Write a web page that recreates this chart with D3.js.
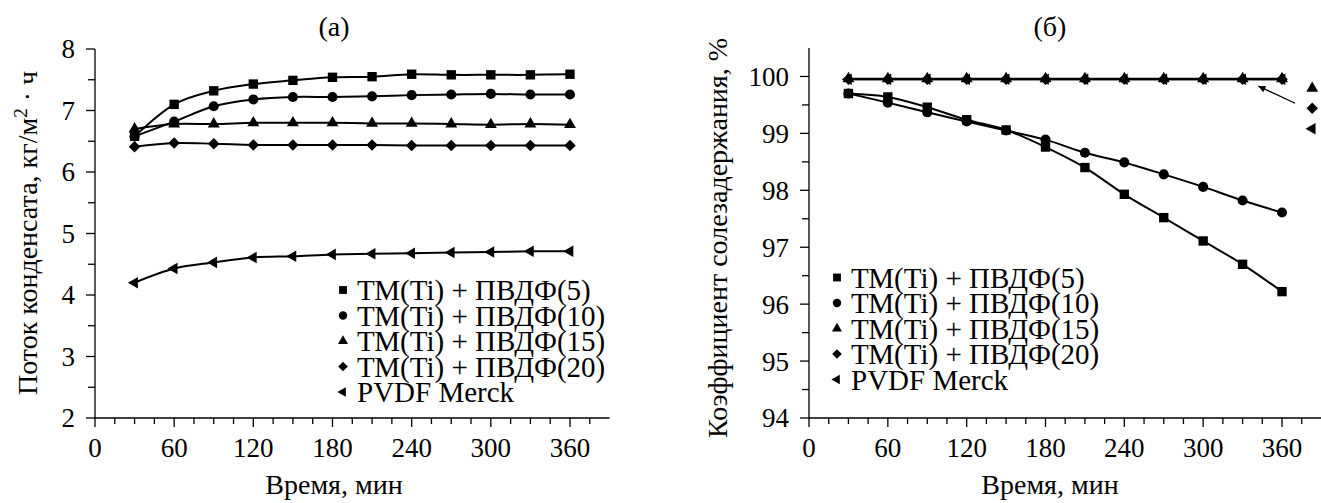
<!DOCTYPE html>
<html>
<head>
<meta charset="utf-8">
<style>
  body { margin: 0; background: #fff; }
  svg text { font-family: "Liberation Serif", "Times New Roman", serif; fill: #000; }
  .axis path, .axis line { stroke: #000; stroke-width: 1.3; fill: none; }
  .series { fill: none; stroke: #000; stroke-width: 2; }
</style>
</head>
<body>
<svg id="chart" width="1321" height="503"></svg>
<script src="https://d3js.org/d3.v7.min.js"></script>
<script>
// time points, min
const times = [30, 60, 90, 120, 150, 180, 210, 240, 270, 300, 330, 360];

// (a) condensate flux, kg/m2 h
const fluxTM5  = [6.58, 7.10, 7.32, 7.43, 7.49, 7.54, 7.55, 7.59, 7.58, 7.58, 7.58, 7.59];
const fluxTM10 = [6.58, 6.82, 7.07, 7.18, 7.22, 7.22, 7.23, 7.25, 7.26, 7.27, 7.26, 7.26];
const fluxTM15 = [6.70, 6.78, 6.78, 6.80, 6.80, 6.80, 6.79, 6.79, 6.78, 6.77, 6.78, 6.77];
const fluxTM20 = [6.41, 6.47, 6.46, 6.44, 6.44, 6.44, 6.44, 6.43, 6.43, 6.43, 6.43, 6.43];
const fluxPVDF = [4.20, 4.43, 4.53, 4.61, 4.63, 4.66, 4.67, 4.68, 4.69, 4.70, 4.71, 4.71];

// (б) salt retention, %
const retTM5  = [99.70, 99.64, 99.46, 99.24, 99.06, 98.76, 98.40, 97.93, 97.52, 97.11, 96.70, 96.22];
const retTM10 = [99.70, 99.54, 99.37, 99.21, 99.05, 98.89, 98.66, 98.49, 98.28, 98.06, 97.82, 97.61];
const retTM15 = [99.96, 99.96, 99.96, 99.96, 99.96, 99.96, 99.96, 99.96, 99.96, 99.96, 99.96, 99.96];
const retTM20 = [99.95, 99.95, 99.95, 99.95, 99.95, 99.95, 99.95, 99.95, 99.95, 99.95, 99.95, 99.95];
const retPVDF = [99.95, 99.95, 99.95, 99.95, 99.95, 99.95, 99.95, 99.95, 99.95, 99.95, 99.95, 99.95];

const seriesNames = ["ТМ(Ti) + ПВДФ(5)", "ТМ(Ti) + ПВДФ(10)", "ТМ(Ti) + ПВДФ(15)", "ТМ(Ti) + ПВДФ(20)", "PVDF Merck"];
const markerKinds = ["square", "circle", "triangle", "diamond", "left"];

// side note in (б): markers for the three overlapping series + arrow
const noteKinds = ["triangle", "diamond", "left"];
const noteX = 383;
const noteY = [99.79, 99.44, 99.08];
const arrowFrom = [370, 99.53];
const arrowTo = [342, 99.83];

const xTicksMajor = [0, 60, 120, 180, 240, 300, 360];

const svg = d3.select("#chart");
const TICK_FS = 27, LEG_FS = 29, LAB_FS = 28;

function markerPath(kind, size) {
  if (kind === "circle") return d3.symbol(d3.symbolCircle, size)();
  if (kind === "square" || kind === "diamond") return d3.symbol(d3.symbolSquare, size)();
  return d3.symbol(d3.symbolTriangle, size)();
}
function markerRot(kind) {
  if (kind === "diamond") return 45;
  if (kind === "left") return -90;
  return 0;
}
const markerSize = { square: 88, circle: 80, triangle: 62, diamond: 66, left: 58 };

function drawMarker(g, kind, x, y, scale) {
  g.append("path")
    .attr("d", markerPath(kind, markerSize[kind] * (scale || 1)))
    .attr("transform", `translate(${x},${y}) rotate(${markerRot(kind)})`)
    .attr("fill", "#000");
}

function panel(opts) {
  const x = d3.scaleLinear().domain([0, 390]).range(opts.xRange);
  const y = d3.scaleLinear().domain(opts.yDomain).range([418, opts.yTop]);
  const g = svg.append("g");

  // x axis
  const xAxis = g.append("g").attr("class", "axis").attr("transform", "translate(0,418)");
  xAxis.append("path").attr("d", `M${x(0)},0H${x(390)}`);
  xAxis.selectAll("line").data(d3.range(0, 376, 15)).join("line")
    .attr("x1", d => x(d)).attr("x2", d => x(d))
    .attr("y1", 0).attr("y2", d => d % 60 === 0 ? 9 : 6);
  xAxis.selectAll("text").data(xTicksMajor).join("text")
    .attr("x", d => x(d)).attr("y", 39)
    .attr("text-anchor", "middle").attr("font-size", TICK_FS).text(d => d);

  // y axis
  const yAxis = g.append("g").attr("class", "axis").attr("transform", `translate(${x(0)},0)`);
  yAxis.append("path").attr("d", `M0,418V${y(opts.yDomain[1])}`);
  const yt = d3.range(opts.yDomain[0], opts.yMaxTick + 0.01, 0.5);
  yAxis.selectAll("line").data(yt).join("line")
    .attr("x1", d => Number.isInteger(d) ? -9 : -7).attr("x2", 0)
    .attr("y1", d => y(d)).attr("y2", d => y(d));
  yAxis.selectAll("text").data(yt.filter(Number.isInteger)).join("text")
    .attr("x", -20).attr("y", d => y(d)).attr("dy", "0.35em")
    .attr("text-anchor", "end").attr("font-size", TICK_FS).text(d => d);

  // lines + markers
  const line = d3.line().x((d, i) => x(times[i])).y(d => y(d)).curve(d3.curveCardinal.tension(0));
  opts.series.forEach(vals => {
    g.append("path").attr("class", "series").attr("d", line(vals));
  });
  opts.series.forEach((vals, k) => {
    vals.forEach((v, i) => drawMarker(g, markerKinds[k], x(times[i]), y(v)));
  });

  // legend
  const lg = g.append("g");
  seriesNames.forEach((name, k) => {
    const cy = opts.legY + k * 25.5;
    drawMarker(lg, markerKinds[k], opts.legX, cy, 0.7);
    lg.append("text").attr("x", opts.legX + 14).attr("y", cy + 10)
      .attr("font-size", LEG_FS).text(name);
  });

  // titles
  g.append("text").attr("x", opts.titleX).attr("y", 36).attr("text-anchor", "middle")
    .attr("font-size", LAB_FS).text(opts.title);
  g.append("text").attr("x", opts.titleX).attr("y", 494).attr("text-anchor", "middle")
    .attr("font-size", LAB_FS).text("Время, мин");
  g.append("text").attr("transform", `translate(${opts.yLabX},${opts.yLabY}) rotate(-90)`)
    .attr("text-anchor", "middle").attr("font-size", LAB_FS).html(opts.yLabel);

  return { g, x, y };
}

panel({
  xRange: [95, 95 + 390 * 1.3194],
  yDomain: [2, 8], yTop: 49, yMaxTick: 8,
  series: [fluxTM5, fluxTM10, fluxTM15, fluxTM20, fluxPVDF],
  legX: 343, legY: 290,
  title: "(a)", titleX: 334,
  yLabX: 37, yLabY: 233,
  yLabel: 'Поток конденсата, кг/м<tspan dy="-10" font-size="19">2</tspan><tspan dy="10"> · ч</tspan>'
});

const right = panel({
  xRange: [809, 809 + 390 * 1.3139],
  yDomain: [94, 100.5], yTop: 48, yMaxTick: 100,
  series: [retTM5, retTM10, retTM15, retTM20, retPVDF],
  legX: 837, legY: 277.5,
  title: "(б)", titleX: 1050,
  yLabX: 727, yLabY: 238,
  yLabel: "Коэффициент солезадержания, %"
});

// side note
noteKinds.forEach((k, i) => drawMarker(right.g, k, right.x(noteX), right.y(noteY[i])));
svg.append("defs").append("marker").attr("id", "ah")
  .attr("viewBox", "0 0 10 10").attr("refX", 10).attr("refY", 5)
  .attr("markerWidth", 10).attr("markerHeight", 7).attr("markerUnits", "userSpaceOnUse")
  .attr("orient", "auto")
  .append("path").attr("d", "M0,0L10,5L0,10z").attr("fill", "#000");
right.g.append("line")
  .attr("x1", right.x(arrowFrom[0])).attr("y1", right.y(arrowFrom[1]))
  .attr("x2", right.x(arrowTo[0])).attr("y2", right.y(arrowTo[1]))
  .attr("stroke", "#000").attr("stroke-width", 1.3).attr("marker-end", "url(#ah)");
</script>
</body>
</html>
